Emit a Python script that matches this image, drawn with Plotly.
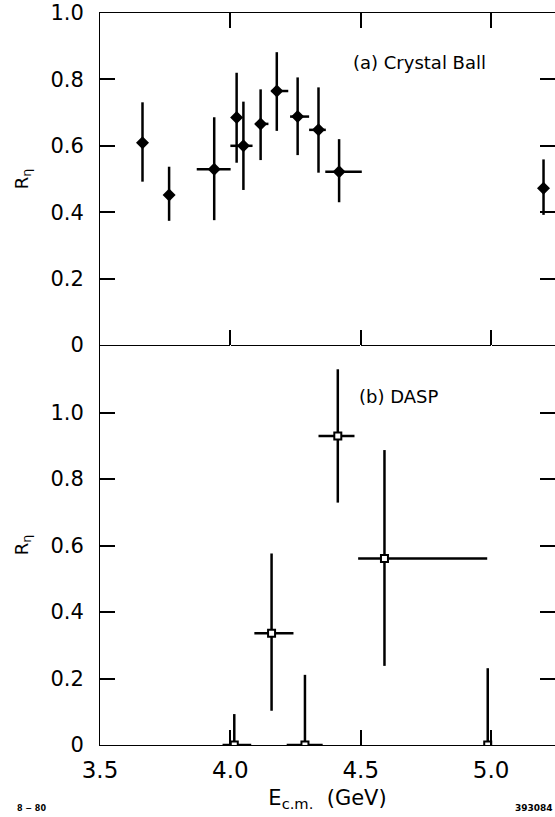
import plotly.graph_objects as go

# ---- (a) Crystal Ball ----
x_a = [3.663, 3.765, 3.938, 4.024, 4.050, 4.116, 4.178, 4.258, 4.338, 4.417, 5.201]
y_a = [0.609, 0.452, 0.529, 0.685, 0.600, 0.666, 0.765, 0.688, 0.648, 0.522, 0.472]
y_hi_a = [0.731, 0.537, 0.686, 0.820, 0.733, 0.770, 0.882, 0.806, 0.776, 0.620, 0.559]
y_lo_a = [0.492, 0.374, 0.376, 0.549, 0.467, 0.557, 0.645, 0.572, 0.519, 0.430, 0.392]
x_lo_a = [3.663, 3.765, 3.871, 4.024, 4.000, 4.097, 4.158, 4.229, 4.302, 4.364, 5.201]
x_hi_a = [3.663, 3.765, 4.001, 4.024, 4.085, 4.146, 4.222, 4.302, 4.366, 4.504, 5.201]

# ---- (b) DASP ----
x_b = [4.015, 4.158, 4.286, 4.412, 4.591, 4.987]
y_b = [0.0, 0.336, 0.0, 0.929, 0.561, 0.0]
y_hi_b = [0.093, 0.576, 0.211, 1.130, 0.887, 0.231]
y_lo_b = [0.0, 0.103, 0.0, 0.729, 0.238, 0.0]
x_lo_b = [3.970, 4.092, 4.216, 4.338, 4.490, 4.987]
x_hi_b = [4.080, 4.242, 4.354, 4.476, 4.985, 4.987]

x_ticks = [3.5, 4.0, 4.5, 5.0]
x_tick_text = ["3.5", "4.0", "4.5", "5.0"]
y_ticks = [0, 0.2, 0.4, 0.6, 0.8, 1.0]
y_tick_text = ["0", "0.2", "0.4", "0.6", "0.8", "1.0"]

def diffs(vals, ref):
    return [abs(v - r) for v, r in zip(vals, ref)]

FONT = "DejaVu Sans"
INK = "black"

fig = go.Figure()
fig.add_trace(go.Scatter(
    x=x_a, y=y_a, mode="markers", xaxis="x", yaxis="y",
    marker=dict(symbol="diamond", size=10, color=INK),
    error_y=dict(type="data", symmetric=False, array=diffs(y_hi_a, y_a),
                 arrayminus=diffs(y_lo_a, y_a), thickness=2.5, width=0, color=INK),
    error_x=dict(type="data", symmetric=False, array=diffs(x_hi_a, x_a),
                 arrayminus=diffs(x_lo_a, x_a), thickness=2.5, width=0, color=INK),
    showlegend=False, hoverinfo="skip"))
fig.add_trace(go.Scatter(
    x=x_b, y=y_b, mode="markers", xaxis="x2", yaxis="y2",
    marker=dict(symbol="square", size=7, color="white", line=dict(color=INK, width=2)),
    error_y=dict(type="data", symmetric=False, array=diffs(y_hi_b, y_b),
                 arrayminus=diffs(y_lo_b, y_b), thickness=2.5, width=0, color=INK),
    error_x=dict(type="data", symmetric=False, array=diffs(x_hi_b, x_b),
                 arrayminus=diffs(x_lo_b, x_b), thickness=2.5, width=0, color=INK),
    showlegend=False, hoverinfo="skip"))

split = 400 / 732
axis_common = dict(showline=True, linecolor=INK, ticks="inside",
                   ticklen=15, tickwidth=2, tickcolor="rgb(0,0,0)",
                   gridcolor="white", zeroline=False)

fig.update_layout(
    width=555, height=817,
    margin=dict(l=100, r=0, t=13, b=72),
    plot_bgcolor="white",
    font=dict(family=FONT, color=INK),
    xaxis=dict(axis_common, domain=[0, 1], anchor="y", range=[3.5, 5.245],
               tickvals=x_ticks, ticktext=["", "", "", ""], mirror="ticks"),
    yaxis=dict(axis_common, domain=[split, 1], anchor="x", range=[0, 1.0],
               tickvals=y_ticks, ticktext=y_tick_text, mirror="ticks",
               tickfont=dict(size=21), ticklabelstandoff=11,
               title=dict(text="R<sub>η</sub>", font=dict(size=18), standoff=17)),
    xaxis2=dict(axis_common, domain=[0, 1], anchor="y2", range=[3.5, 5.245],
                tickvals=x_ticks, ticktext=x_tick_text,
                tickfont=dict(size=23), ticklabelstandoff=4,
                title=dict(text="E<sub>c.m.</sub>  (GeV)", font=dict(size=21), standoff=8)),
    yaxis2=dict(axis_common, domain=[0, split], anchor="x2", range=[0, 400 / 332.5],
                tickvals=y_ticks, ticktext=y_tick_text, mirror="ticks",
                tickfont=dict(size=21), ticklabelstandoff=11,
                title=dict(text="R<sub>η</sub>", font=dict(size=18), standoff=17)),
    annotations=[
        dict(text="(a) Crystal Ball", x=4.463, y=0.852, xref="x", yref="y",
             xanchor="left", yanchor="middle", showarrow=False, font=dict(size=18)),
        dict(text="(b) DASP", x=4.484, y=1.048, xref="x2", yref="y2",
             xanchor="left", yanchor="middle", showarrow=False, font=dict(size=18)),
        dict(text="<b>8 − 80</b>", x=0, y=0, xref="paper", yref="paper",
             xanchor="left", yanchor="bottom", showarrow=False, font=dict(size=8),
             xshift=-85, yshift=-70),
        dict(text="<b>393084</b>", x=1, y=0, xref="paper", yref="paper",
             xanchor="right", yanchor="bottom", showarrow=False, font=dict(size=9),
             yshift=-70),
    ],
)

fig.write_html("out.html", config={"displayModeBar": False},
               post_script="document.body.style.margin='0';document.body.style.overflow='hidden';")
